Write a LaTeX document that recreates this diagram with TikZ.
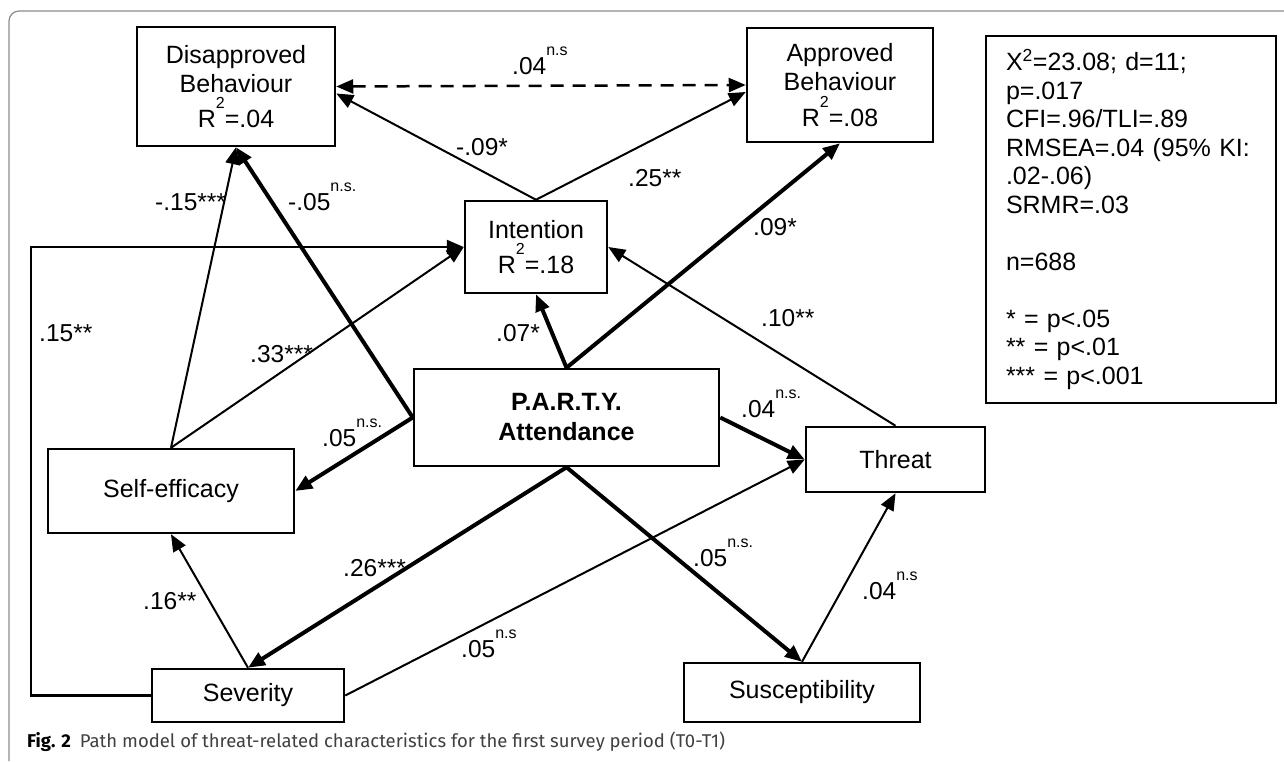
\documentclass[tikz,border=0pt]{standalone}
\usepackage{fontspec}
\setmainfont{Liberation Sans}
\newfontfamily\capfont{Fira Sans}
\usetikzlibrary{arrows.meta,calc}
\newcommand{\supsig}[1]{\raisebox{0.75em}{\fontsize{16}{16}\selectfont #1}}
\definecolor{framegray}{gray}{0.55}
\definecolor{capgray}{gray}{0.25}
\tikzset{
>={Triangle[length=17pt,width=14pt]},
  varbox/.style={
    rectangle,
    draw=black, line width=2.5pt,
    align=center,
    inner sep=0pt,
    font=\fontsize{25}{29}\selectfont},
  coef/.style={anchor=base west, inner sep=0pt, font=\fontsize{24.5}{29}\selectfont},
  thinpath/.style={draw, line width=2pt, ->},
  boldpath/.style={draw, line width=4pt, ->},
}
\begin{document}
\begin{tikzpicture}[x=1pt,y=-1pt]
	\fill[white] (0,0) rectangle (1284,761);
	\useasboundingbox (0,0) rectangle (1284,761);
	\draw[framegray, line width=1.2pt, rounded corners=10pt] (9,761) -- (9,11) -- (1284,11);

	% variables
	\node[varbox, minimum width=198, minimum height=119] (disapproved) at (236,86.5)
		{Disapproved\\Behaviour\\[4pt]R\supsig{2}=.04};
	\node[varbox, minimum width=186, minimum height=114] (approved) at (840,85)
		{Approved\\Behaviour\\[4pt]R\supsig{2}=.08};
	\node[varbox, minimum width=142, minimum height=92] (intention) at (536,247)
		{Intention\\[4pt]R\supsig{2}=.18};
	\node[varbox, minimum width=305, minimum height=97, font=\fontsize{25}{30}\selectfont\bfseries] (party) at (566.5,417.5)
		{P.A.R.T.Y.\\Attendance};
	\node[varbox, minimum width=246, minimum height=84] (self-efficacy) at (171,491) {Self-efficacy};
	\node[varbox, minimum width=179, minimum height=65] (threat) at (895.5,459.5) {Threat};
	\node[varbox, minimum width=192, minimum height=53] (severity) at (248,695.5) {Severity};
	\node[varbox, minimum width=236, minimum height=59] (susceptibility) at (802,692.5) {Susceptibility};

	% fit indices
	\node[varbox, minimum width=290, minimum height=367, text width=250, align=left,
		font=\fontsize{25}{28.5}\selectfont] (fit) at (1131,219.5)
		{X\textsuperscript{2}=23.08; d=11;\\p=.017\\CFI=.96/TLI=.89\\RMSEA=.04 (95\% KI:\\.02-.06)\\SRMR=.03\\[28.5pt]
		n=688\\[28.5pt]{}* = p<.05\\{}** = p<.01\\{}*** = p<.001};

	% paths
	\draw[line width=2.5pt, dashed, dash pattern=on 13pt off 9pt, <->] (disapproved.east) -- (approved.west);
	\draw[thinpath] (intention.north) -- ($(disapproved.east)+(0,7)$);
	\draw[thinpath] (intention.north) -- ($(approved.west)+(0,7)$);
	\draw[thinpath] (self-efficacy.north) -- (disapproved.south);
	\draw[thinpath] (self-efficacy.north) -- (intention.west);
	\draw[thinpath] (threat.north) -- (intention.east);
	\draw[thinpath] (severity.north) -- (self-efficacy.south);
	\draw[thinpath] (severity.east) -- (threat.west);
	\draw[thinpath] (susceptibility.north) -- (threat.south);
	\coordinate (loop) at (31,695.5);
	\draw[thinpath, line width=2.5pt] (severity.west) -- (loop) |- (intention.west);

	\draw[boldpath] (party.west) -- (disapproved.south);
	\draw[boldpath] (party.west) -- (self-efficacy.east);
	\draw[boldpath] (party.north) -- (intention.south);
	\draw[boldpath] (party.north) -- (approved.south);
	\draw[boldpath] (party.east) -- (threat.west);
	\draw[boldpath] (party.south) -- (severity.north);
	\draw[boldpath] (party.south) -- (susceptibility.north);

	% coefficients
	\node[coef] (c-dis-app) at (512,74) {.04\supsig{n.s}};
	\node[coef] (c-int-dis) at (456,155) {-.09*};
	\node[coef] (c-int-app) at (628,186) {.25**};
	\node[coef] (c-self-dis) at (155,210) {-.15***};
	\node[coef] (c-party-dis) at (288,210) {-.05\supsig{n.s.}};
	\node[coef] (c-party-app) at (753,235) {.09*};
	\node[coef] (c-threat-int) at (761,326) {.10**};
	\node[coef] (c-sev-int) at (39,341) {.15**};
	\node[coef] (c-self-int) at (250,362) {.33***};
	\node[coef] (c-party-int) at (496,341) {.07*};
	\node[coef] (c-party-threat) at (741,417) {.04\supsig{n.s.}};
	\node[coef] (c-party-self) at (322,446) {.05\supsig{n.s.}};
	\node[coef] (c-party-sus) at (693,566) {.05\supsig{n.s.}};
	\node[coef] (c-party-sev) at (343,576) {.26***};
	\node[coef] (c-sus-threat) at (862,599) {.04\supsig{n.s}};
	\node[coef] (c-sev-self) at (143,609) {.16**};
	\node[coef] (c-sev-threat) at (461,657) {.05\supsig{n.s}};

	\node[anchor=base west, inner sep=0pt, text=capgray, font=\capfont\fontsize{18.5}{20}\selectfont] (caption) at (27,747)
		{\textcolor{black}{\textbf{Fig. 2}}\hspace{9pt}Path model of threat-related characteristics for the first survey period (T0-T1)};
\end{tikzpicture}
\end{document}
